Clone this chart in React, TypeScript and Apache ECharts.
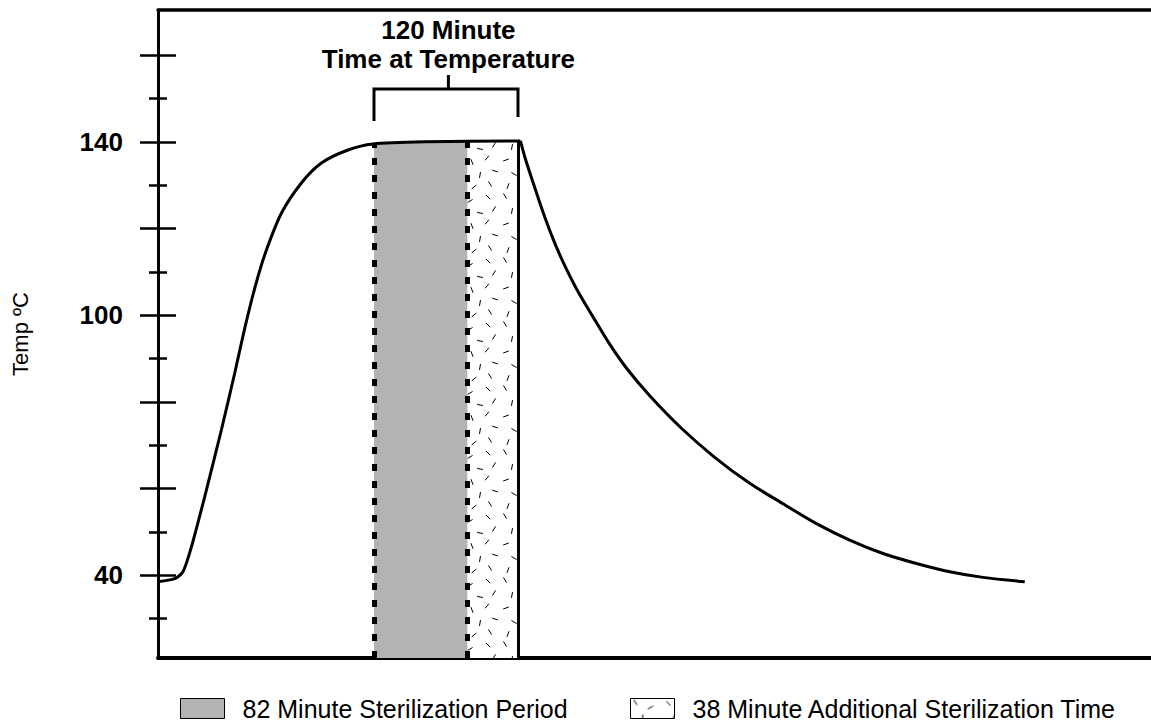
import React, { useEffect, useRef } from "react";
import * as echarts from "echarts";

// Heating phase: time (min) vs temperature (ºC)
const heatingTime = [0, 13.9, 20.8, 27.8, 38.9, 52.8, 63.9, 72.3, 80.6, 88.9, 102.8, 119.5, 136.2, 158.3, 179.2, 223.7, 302];
const heatingTemp = [38.5, 39.2, 40.8, 46.5, 58.1, 73.5, 86.6, 97.0, 106.2, 113.9, 123.5, 130.5, 135.1, 138.1, 139.5, 140, 140.2];
// Cooling phase
const coolingTime = [302, 306, 312.3, 320.8, 329.2, 337.5, 348.7, 362.5, 376.4, 390.3, 409.8, 436.2, 463.9, 493.1, 520.8, 548.7, 576.4, 604.2, 632, 659.8, 687.5, 722.3];
const coolingTemp = [140.2, 136.2, 130.8, 123.8, 117.6, 112.3, 106.1, 99.6, 93.3, 87.8, 81.4, 73.9, 67.2, 61.2, 56.5, 51.9, 48.1, 45.0, 42.7, 40.8, 39.5, 38.5];

// Phase boundaries (min): start of sterilization, end of 82-min period, end of time at temperature
const phaseBounds = [180, 258, 300];
const phaseNames = ["82 Minute Sterilization Period", "38 Minute Additional Sterilization Time"];
const bracketText = ["120 Minute", "Time at Temperature"];

// Y axis ticks
const yLabelValues = [40, 100, 140];
const yMajorTicks = [40, 60, 80, 100, 120, 140, 160];
const yMinorTicks = [30, 50, 70, 90, 110, 130, 150];

const Y_MIN = 20.9;
const Y_MAX = 170.4;
const X_MIN = 0;
const X_MAX = 827.5;

// decorative stipple texture strokes [x, y, angle]
const stippleStrokes: number[][] = [
  [5, 4, 60], [20, 9, -30], [38, 5, 45], [12, 19, 100], [30, 21, 10], [44, 17, -60],
  [6, 32, -20], [22, 34, 70], [37, 30, 130], [14, 46, 30], [30, 47, -80], [45, 43, 20],
  [8, 58, 110], [24, 59, -40], [40, 56, 60],
];

function interp(ts: number[], vs: number[], t: number): number {
  for (let i = 0; i < ts.length - 1; i++) {
    if (t >= ts[i] && t <= ts[i + 1]) {
      const f = (t - ts[i]) / (ts[i + 1] - ts[i]);
      return vs[i] + f * (vs[i + 1] - vs[i]);
    }
  }
  return vs[vs.length - 1];
}

function bandPoints(a: number, b: number): number[][] {
  const pts: number[][] = [[a, interp(heatingTime, heatingTemp, a)]];
  heatingTime.forEach((t, i) => {
    if (t > a && t < b) pts.push([t, heatingTemp[i]]);
  });
  pts.push([b, interp(heatingTime, heatingTemp, b)]);
  return pts;
}

function makeStipple(): HTMLCanvasElement {
  const c = document.createElement("canvas");
  c.width = 50;
  c.height = 64;
  const g = c.getContext("2d")!;
  g.fillStyle = "#ffffff";
  g.fillRect(0, 0, c.width, c.height);
  g.strokeStyle = "#000000";
  g.lineWidth = 1;
  const l = 3;
  for (const [x, y, a] of stippleStrokes) {
    const r = (a * Math.PI) / 180;
    g.beginPath();
    g.moveTo(x - l * Math.cos(r), y - l * Math.sin(r));
    g.lineTo(x + l * Math.cos(r), y + l * Math.sin(r));
    g.stroke();
  }
  return c;
}

export default function App() {
  const ref = useRef<HTMLDivElement>(null);
  useEffect(() => {
    document.body.style.margin = "0";
    if (!ref.current) return;
    const chart = echarts.init(ref.current, null, { renderer: "svg" });
    const stipple = { image: makeStipple(), repeat: "repeat" } as any;
    const font = "'Liberation Sans', Arial, Helvetica, sans-serif";

    const [s0, s1, s2] = phaseBounds;
    const topAt = (t: number) => interp(heatingTime, heatingTemp, t);
    const stemT = (s0 + s2) / 2 + 2;
    const bracketTop = 152.2;

    const yBase: any = {
      type: "value",
      min: Y_MIN,
      max: Y_MAX,
      position: "left",
      offset: 0,
      splitLine: { show: false },
      axisLine: { show: false, onZero: false },
      axisLabel: { show: false },
    };
    const tickStyle = { color: "#000", width: 2.5 };
    const legendBase: any = {
      top: 696,
      padding: 0,
      itemWidth: 44,
      itemHeight: 20,
      selectedMode: false,
      textStyle: { fontSize: 25, color: "#000", fontFamily: font, padding: [0, 0, 0, 13] },
    };

    const option: any = {
      animation: false,
      textStyle: { fontFamily: font, color: "#000" },
      grid: { left: 158, right: 0, top: 10, bottom: 63, containLabel: false, outerBoundsMode: "none" },
      xAxis: [
        {
          type: "value", min: X_MIN, max: X_MAX, position: "bottom",
          axisLine: { show: true, onZero: false, lineStyle: { color: "#000", width: 4 } },
          axisTick: { show: false }, axisLabel: { show: false }, splitLine: { show: false },
        },
        {
          type: "value", min: X_MIN, max: X_MAX, position: "top",
          axisLine: { show: true, onZero: false, lineStyle: { color: "#000", width: 3.5 } },
          axisTick: { show: false }, axisLabel: { show: false }, splitLine: { show: false },
        },
      ],
      yAxis: [
        {
          ...yBase,
          name: "Temp ºC",
          nameLocation: "middle",
          nameGap: 127,
          nameRotate: 90,
          nameTextStyle: { fontSize: 22, color: "#000", fontFamily: font },
          axisLine: { show: true, onZero: false, lineStyle: { color: "#000", width: 3 } },
          axisTick: { show: true, inside: false, length: 18, lineStyle: tickStyle, customValues: yMajorTicks },
          axisLabel: {
            show: true, customValues: yLabelValues, margin: 35, fontSize: 26, fontWeight: "bold",
            color: "#000", fontFamily: font,
          },
        },
        { ...yBase, axisTick: { show: true, inside: true, length: 18, lineStyle: tickStyle, customValues: yMajorTicks } },
        { ...yBase, axisTick: { show: true, inside: false, length: 9, lineStyle: tickStyle, customValues: yMinorTicks } },
        { ...yBase, axisTick: { show: true, inside: true, length: 9, lineStyle: tickStyle, customValues: yMinorTicks } },
      ],
      legend: [
        {
          ...legendBase,
          left: 180,
          data: [{ name: phaseNames[0], icon: "rect", itemStyle: { color: "#b3b3b3", borderColor: "#000", borderWidth: 1 } }],
        },
        {
          ...legendBase,
          left: 630,
          data: [{ name: phaseNames[1], icon: "rect", itemStyle: { color: stipple, borderColor: "#000", borderWidth: 1 } }],
        },
      ],
      series: [
        {
          name: phaseNames[0],
          type: "line",
          z: 1,
          data: bandPoints(s0, s1),
          showSymbol: false,
          lineStyle: { width: 0 },
          itemStyle: { color: "#b3b3b3" },
          areaStyle: { color: "#b3b3b3", opacity: 1, origin: "start" },
        },
        {
          name: phaseNames[1],
          type: "line",
          z: 2,
          data: bandPoints(s1, s2),
          showSymbol: false,
          lineStyle: { width: 0 },
          itemStyle: { color: "#ffffff" },
          areaStyle: { color: stipple, opacity: 1, origin: "start" },
          markLine: {
            silent: true,
            symbol: "none",
            label: { show: false },
            data: [
              [
                { coord: [s0, Y_MIN], lineStyle: { color: "#000", width: 5, type: [7, 10] } },
                { coord: [s0, topAt(s0)] },
              ],
              [
                { coord: [s1, Y_MIN], lineStyle: { color: "#000", width: 5, type: [7, 10] } },
                { coord: [s1, topAt(s1)] },
              ],
              [
                { coord: [s2, Y_MIN], lineStyle: { color: "#000", width: 3, type: "solid" } },
                { coord: [s2, topAt(s2)] },
              ],
            ],
          },
        },
        {
          name: "Heating",
          type: "line",
          z: 5,
          data: heatingTime.map((t, i) => [t, heatingTemp[i]]),
          smooth: 0.25,
          showSymbol: false,
          lineStyle: { color: "#000", width: 3 },
        },
        {
          name: "Cooling",
          type: "line",
          z: 5,
          data: coolingTime.map((t, i) => [t, coolingTemp[i]]),
          smooth: 0.3,
          showSymbol: false,
          lineStyle: { color: "#000", width: 3 },
        },
        {
          name: "Bracket",
          type: "line",
          z: 5,
          data: [[s0, 144.8], [s0, bracketTop], [s2, bracketTop], [s2, 145.7]],
          showSymbol: false,
          lineStyle: { color: "#000", width: 3, join: "miter" },
        },
        {
          name: "BracketStem",
          type: "line",
          z: 5,
          data: [[stemT, bracketTop], [stemT, 155.4]],
          showSymbol: false,
          lineStyle: { color: "#000", width: 3 },
          markPoint: {
            symbol: "circle",
            symbolSize: 1,
            itemStyle: { color: "rgba(0,0,0,0)" },
            silent: true,
            data: [
              {
                coord: [stemT, 155.4],
                label: {
                  show: true,
                  position: "top",
                  distance: 1,
                  formatter: bracketText.join("\n"),
                  fontSize: 26,
                  fontWeight: "bold",
                  lineHeight: 29,
                  color: "#000",
                  fontFamily: font,
                  align: "center",
                },
              },
            ],
          },
        },
      ],
    };
    chart.setOption(option);
    return () => chart.dispose();
  }, []);
  return <div ref={ref} style={{ width: 1151, height: 721 }} />;
}
